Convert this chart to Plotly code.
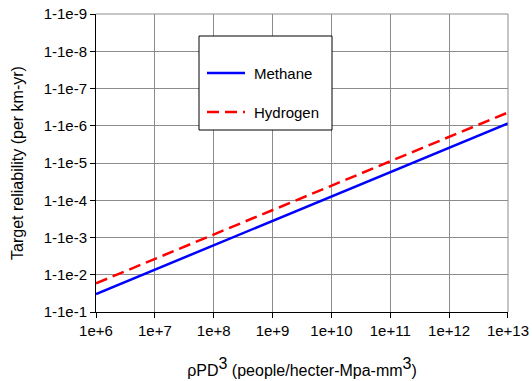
import plotly.graph_objects as go

x_vals = [1e6, 1e13]
methane = [3.3e-2, 8.6e-7]
hydrogen = [1.7e-2, 4.4e-7]

x_ticks = [1e6, 1e7, 1e8, 1e9, 1e10, 1e11, 1e12, 1e13]
x_ticklabels = ["1e+6", "1e+7", "1e+8", "1e+9", "1e+10", "1e+11", "1e+12", "1e+13"]
y_ticks = [1e-1, 1e-2, 1e-3, 1e-4, 1e-5, 1e-6, 1e-7, 1e-8, 1e-9]
y_ticklabels = ["1-1e-1", "1-1e-2", "1-1e-3", "1-1e-4", "1-1e-5", "1-1e-6", "1-1e-7", "1-1e-8", "1-1e-9"]

FONT = "Liberation Sans, Arial, sans-serif"

fig = go.Figure()
fig.add_trace(go.Scatter(x=x_vals, y=methane, mode="lines", name="Methane",
                         line=dict(color="#0000FF", width=2.5), showlegend=False))
fig.add_trace(go.Scatter(x=x_vals, y=hydrogen, mode="lines", name="Hydrogen",
                         line=dict(color="#FF0000", width=2.5, dash="12px,6px"), showlegend=False))

W, H = 532, 381
ml, mr, mt, mb = 96, 24, 14, 69
pw, ph = W - ml - mr, H - mt - mb

def px(xp):
    return (xp - ml) / pw

def py(yp):
    return 1 - (yp - mt) / ph

shapes = []
shapes.append(dict(type="line", xref="paper", yref="paper", x0=0, x1=1, y0=1, y1=1,
                   line=dict(color="#8c8c8c", width=1)))
shapes.append(dict(type="line", xref="paper", yref="paper", x0=1, x1=1, y0=0, y1=1,
                   line=dict(color="#8c8c8c", width=1)))
shapes.append(dict(type="rect", xref="paper", yref="paper", x0=px(199), x1=px(332),
                   y0=py(130), y1=py(36), fillcolor="white", line=dict(color="black", width=1),
                   layer="above"))
shapes.append(dict(type="line", xref="paper", yref="paper", x0=px(207), x1=px(245),
                   y0=py(73), y1=py(73), line=dict(color="#0000FF", width=2.5), layer="above"))
shapes.append(dict(type="line", xref="paper", yref="paper", x0=px(207), x1=px(245),
                   y0=py(112), y1=py(112), line=dict(color="#FF0000", width=2.5, dash="12px,6px"),
                   layer="above"))

annotations = [
    dict(text="Methane", xref="paper", yref="paper", x=px(252), y=py(73), xanchor="left",
         yanchor="middle", showarrow=False, font=dict(family=FONT, size=15, color="black")),
    dict(text="Hydrogen", xref="paper", yref="paper", x=px(252), y=py(112), xanchor="left",
         yanchor="middle", showarrow=False, font=dict(family=FONT, size=15, color="black")),
]

fig.update_layout(
    width=W, height=H,
    margin=dict(l=ml, r=mr, t=mt, b=mb),
    paper_bgcolor="white", plot_bgcolor="white",
    font=dict(family=FONT, size=15, color="black"),
    shapes=shapes, annotations=annotations,
    showlegend=False,
)
fig.update_xaxes(
    type="log", range=[5.9999, 13.0001], tickvals=x_ticks, ticktext=x_ticklabels,
    showgrid=True, gridcolor="#8c8c8c", gridwidth=1,
    showline=True, linecolor="black", linewidth=1,
    ticks="outside", ticklen=5, tickcolor="black", tickfont=dict(size=15),
    ticklabeloverflow="allow",
    title=dict(text="ρPD<sup><span style='font-size:16px'>3</span></sup> (people/hecter-Mpa-mm<sup><span style='font-size:16px'>3</span></sup>)",
               standoff=26, font=dict(size=16)),
    zeroline=False, automargin=False,
)
fig.update_yaxes(
    type="log", range=[-0.9999, -9.0001], tickvals=y_ticks, ticktext=y_ticklabels,
    showgrid=True, gridcolor="#8c8c8c", gridwidth=1,
    showline=True, linecolor="black", linewidth=1,
    ticks="outside", ticklen=5, tickcolor="black", tickfont=dict(size=15),
    ticklabeloverflow="allow",
    title=dict(text="Target reliability (per km-yr)", standoff=16, font=dict(size=16)),
    zeroline=False, automargin=False,
)

fig.write_html("out.html", config={"displayModeBar": False},
               post_script="document.body.style.margin='0';document.body.style.overflow='hidden';")
